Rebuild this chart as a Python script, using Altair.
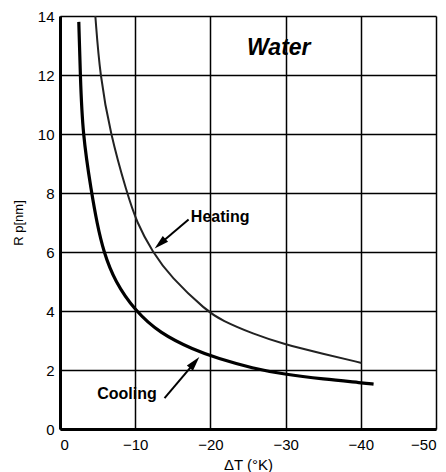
import altair as alt
import pandas as pd

# Cooling curve (thick)
cool_dt = [-2.5, -2.7, -3.0, -4.2, -4.9, -5.8, -7.3, -10.0, -13.3, -17.8, -20.9, -25.7, -29.7, -35.0, -40.4, -41.7]
cool_r = [13.8, 12.0, 10.0, 8.0, 7.0, 6.0, 5.0, 4.0, 3.24, 2.68, 2.4, 2.05, 1.86, 1.69, 1.56, 1.52]

# Heating curve (thinner)
heat_dt = [-4.7, -5.3, -6.7, -8.9, -10.2, -12.3, -14.7, -19.5, -21.5, -25.7, -29.7, -35.0, -40.1]
heat_r = [14.0, 12.0, 10.0, 8.0, 7.0, 6.0, 5.16, 4.0, 3.68, 3.22, 2.88, 2.55, 2.24]

x_ticks = [0, -10, -20, -30, -40, -50]
y_ticks = [0, 2, 4, 6, 8, 10, 12, 14]

labels = ["Water", "Heating", "Cooling"]
label_dt = [-29.1, -17.4, -8.9]
label_r = [12.9, 7.2, 1.19]

# arrows: start -> head
arrow_names = ["Heating", "Cooling"]
arrow_start_dt = [-17.1, -13.9]
arrow_start_r = [7.1, 1.05]
arrow_head_dt = [-13.3, -17.9]
arrow_head_r = [6.28, 2.25]
arrow_angle = [228, 40.5]

FONT = "Liberation Sans"

cool_df = pd.DataFrame({"dt": cool_dt, "r": cool_r, "i": range(len(cool_dt))})
heat_df = pd.DataFrame({"dt": heat_dt, "r": heat_r, "i": range(len(heat_dt))})

xscale = alt.Scale(domain=[0, -50], nice=False)
yscale = alt.Scale(domain=[0, 14], nice=False)

xaxis = alt.Axis(values=x_ticks, format="d", title="ΔT (°K)", grid=True,
                 gridColor="black", gridWidth=1.5, gridOpacity=1,
                 domainColor="black", domainWidth=3, ticks=False,
                 labelPadding=8, labelFontSize=15, labelColor="black", labelFont=FONT,
                 titleFont=FONT, titleFontSize=15, titleFontWeight="normal",
                 titleColor="black", titlePadding=5)
yaxis = alt.Axis(values=y_ticks, format="d", title="R p[nm]", grid=True,
                 gridColor="black", gridWidth=1.5, gridOpacity=1,
                 domainColor="black", domainWidth=3, ticks=False,
                 labelPadding=6, labelFontSize=15, labelColor="black", labelFont=FONT,
                 titleFont=FONT, titleFontSize=13, titleFontWeight="normal",
                 titleColor="black", titlePadding=12)

X = alt.X("dt:Q", scale=xscale, axis=xaxis)
Y = alt.Y("r:Q", scale=yscale, axis=yaxis)

cool = alt.Chart(cool_df).mark_line(color="black", strokeWidth=3.2, interpolate="basis").encode(
    x=X, y=Y, order="i:Q")
heat = alt.Chart(heat_df).mark_line(color="#222", strokeWidth=2, interpolate="basis").encode(
    x=alt.X("dt:Q", scale=xscale), y=alt.Y("r:Q", scale=yscale), order="i:Q")

rows = []
for n, sd, sr, hd, hr in zip(arrow_names, arrow_start_dt, arrow_start_r, arrow_head_dt, arrow_head_r):
    rows.append({"name": n, "dt": sd, "r": sr, "k": 0})
    rows.append({"name": n, "dt": hd, "r": hr, "k": 1})
shaft_df = pd.DataFrame(rows)
shafts = alt.Chart(shaft_df).mark_line(color="black", strokeWidth=2).encode(
    x=alt.X("dt:Q", scale=xscale), y=alt.Y("r:Q", scale=yscale),
    detail="name:N", order="k:Q")

head_df = pd.DataFrame({"dt": arrow_head_dt, "r": arrow_head_r, "a": arrow_angle})
heads = alt.Chart(head_df).mark_point(
    shape="M0,-1L0.55,1L-0.55,1Z", filled=True, color="black", opacity=1, size=210
).encode(x=alt.X("dt:Q", scale=xscale), y=alt.Y("r:Q", scale=yscale),
         angle=alt.Angle("a:Q", scale=None))

lab_df = pd.DataFrame({"t": labels, "dt": label_dt, "r": label_r})
water = alt.Chart(lab_df.iloc[[0]]).mark_text(
    font=FONT, fontSize=23, fontWeight="bold", fontStyle="italic", color="black"
).encode(x=alt.X("dt:Q", scale=xscale), y=alt.Y("r:Q", scale=yscale), text="t:N")
heat_lab = alt.Chart(lab_df.iloc[[1]]).mark_text(
    font=FONT, fontSize=16, fontWeight="bold", color="black", align="left"
).encode(x=alt.X("dt:Q", scale=xscale), y=alt.Y("r:Q", scale=yscale), text="t:N")
cool_lab = alt.Chart(lab_df.iloc[[2]]).mark_text(
    font=FONT, fontSize=16, fontWeight="bold", color="black", align="center"
).encode(x=alt.X("dt:Q", scale=xscale), y=alt.Y("r:Q", scale=yscale), text="t:N")

chart = alt.layer(cool, heat, shafts, heads, water, heat_lab, cool_lab).properties(
    width=376, height=413,
    padding={"left": 60, "top": 16, "right": 10, "bottom": 43},
    autosize="none",
).configure_view(stroke="black", strokeWidth=2).configure(background="white")

chart.save("out.html", embed_options={"renderer": "svg", "actions": False})
